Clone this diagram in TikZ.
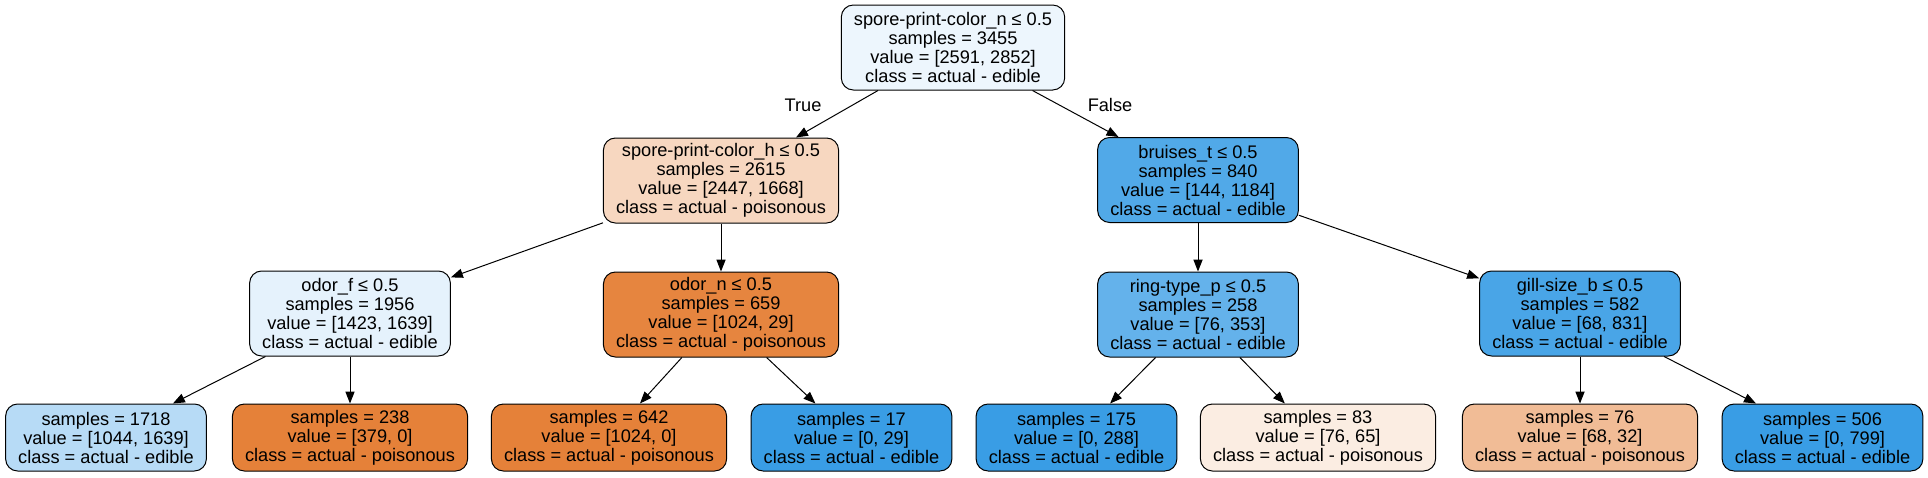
\documentclass[tikz,border=0pt]{standalone}
\usepackage{fontspec}
\setmainfont{Liberation Sans}
\usetikzlibrary{arrows.meta}

\definecolor{edibleA}{RGB}{237,246,253}
\definecolor{edibleB}{RGB}{229,242,252}
\definecolor{edibleC}{RGB}{183,219,246}
\definecolor{edibleD}{RGB}{100,178,235}
\definecolor{edibleE}{RGB}{81,169,232}
\definecolor{edibleF}{RGB}{73,165,231}
\definecolor{edible}{RGB}{57,157,229}
\definecolor{poisonA}{RGB}{251,237,226}
\definecolor{poisonB}{RGB}{247,215,192}
\definecolor{poisonC}{RGB}{241,188,150}
\definecolor{poisonD}{RGB}{230,133,63}
\definecolor{poison}{RGB}{229,129,57}

\begin{document}
\begin{tikzpicture}
    [x=0.5pt,y=-0.5pt,
    split/.style={rectangle,rounded corners=6pt,draw=black,line width=0.5pt,
    align=center,inner xsep=6.3pt,inner ysep=2pt,minimum height=42.5pt,
    font=\fontsize{9.1}{9.5}\selectfont},
    leaf/.style={split,minimum height=33.5pt},
    branch/.style={font=\fontsize{9.1}{9.5}\selectfont,inner sep=0pt},
    edge/.style={-{Triangle[length=6pt,width=4.6pt]},line width=0.5pt}]
    \useasboundingbox (0,0) rectangle (1928,477);
    % splits
    \node (root) [split,fill=edibleA] at (953,47.5)
      {spore-print-color\_n ≤ 0.5\\samples = 3455\\value = [2591, 2852]\\class = actual - edible};
    \node (color h) [split,fill=poisonB] at (721,180.5)
      {spore-print-color\_h ≤ 0.5\\samples = 2615\\value = [2447, 1668]\\class = actual - poisonous};
    \node (bruises) [split,fill=edibleE] at (1198,180)
      {bruises\_t ≤ 0.5\\samples = 840\\value = [144, 1184]\\class = actual - edible};
    \node (odor f) [split,fill=edibleB] at (350,313.5)
      {odor\_f ≤ 0.5\\samples = 1956\\value = [1423, 1639]\\class = actual - edible};
    \node (odor n) [split,fill=poisonD] at (721,314.5)
      {odor\_n ≤ 0.5\\samples = 659\\value = [1024, 29]\\class = actual - poisonous};
    \node (ring type) [split,fill=edibleD] at (1198,314.5)
      {ring-type\_p ≤ 0.5\\samples = 258\\value = [76, 353]\\class = actual - edible};
    \node (gill size) [split,fill=edibleF] at (1580,313.5)
      {gill-size\_b ≤ 0.5\\samples = 582\\value = [68, 831]\\class = actual - edible};
    % leaves
    \node (leaf 1) [leaf,fill=edibleC] at (106,437.5)
      {samples = 1718\\value = [1044, 1639]\\class = actual - edible};
    \node (leaf 2) [leaf,fill=poison] at (350,437.5)
      {samples = 238\\value = [379, 0]\\class = actual - poisonous};
    \node (leaf 3) [leaf,fill=poison] at (609,437.5)
      {samples = 642\\value = [1024, 0]\\class = actual - poisonous};
    \node (leaf 4) [leaf,fill=edible] at (851.5,437.5)
      {samples = 17\\value = [0, 29]\\class = actual - edible};
    \node (leaf 5) [leaf,fill=edible] at (1076.5,437.5)
      {samples = 175\\value = [0, 288]\\class = actual - edible};
    \node (leaf 6) [leaf,fill=poisonA] at (1318,437.5)
      {samples = 83\\value = [76, 65]\\class = actual - poisonous};
    \node (leaf 7) [leaf,fill=poisonC] at (1580,437.5)
      {samples = 76\\value = [68, 32]\\class = actual - poisonous};
    \node (leaf 8) [leaf,fill=edible] at (1822.5,437.5)
      {samples = 506\\value = [0, 799]\\class = actual - edible};
    % branch labels
    \node (true) [branch] at (803,105) {True};
    \node (false) [branch] at (1110,105) {False};
    % edges
    \foreach \from/\to in {root/color h,root/bruises,color h/odor f,color h/odor n,
      bruises/ring type,bruises/gill size,odor f/leaf 1,odor f/leaf 2,
      odor n/leaf 3,odor n/leaf 4,ring type/leaf 5,ring type/leaf 6,
      gill size/leaf 7,gill size/leaf 8}
      \draw [edge] (\from) -- (\to);
\end{tikzpicture}
\end{document}
